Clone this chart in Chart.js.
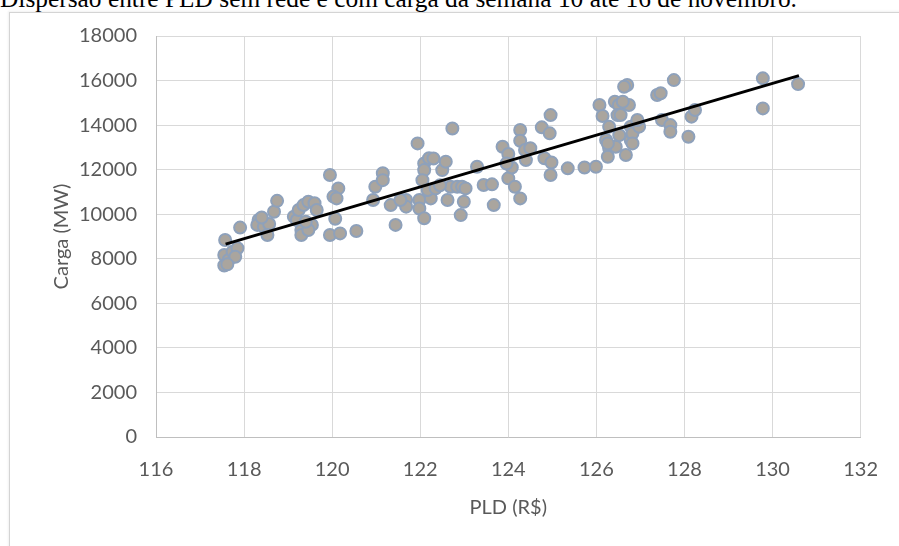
<!DOCTYPE html>
<html>
<head>
<meta charset="utf-8">
<script src="https://cdn.jsdelivr.net/npm/chart.js@4.4.1/dist/chart.umd.min.js"></script>
<style>
  html, body { margin: 0; padding: 0; background: #fff; overflow: hidden; }
  #wrap { position: relative; width: 899px; height: 546px; }
  #frame {
    position: absolute; left: 9px; top: 12px; width: 900px; height: 540px;
    border-left: 1px solid #d4d4d4; border-top: 1px solid #d4d4d4;
    box-shadow: -1px -1px 2px rgba(0,0,0,0.06);
  }
  #caption {
    position: absolute; left: 0; top: -16px; white-space: nowrap;
    font-family: "Liberation Serif", "Times New Roman", serif; font-size: 25.4px; color: #000;
  }
  canvas { position: absolute; left: 0; top: 0; }
</style>
</head>
<body>
<div id="wrap">
  <div id="frame"></div>
  <div id="caption">Dispersão entre PLD sem rede e com carga da semana 10 até 16 de novembro.</div>
  <canvas id="chart" width="899" height="546"></canvas>
</div>
<script>
// PLD (R$) vs Carga (MW)
const pld = [
  117.57, 117.55, 117.55, 117.65, 117.74, 117.85, 117.80, 117.91, 118.33, 118.30,
  118.45, 118.57, 118.53, 118.68, 118.75, 118.40, 117.62,
  119.13, 119.20, 119.24, 119.35, 119.46, 119.60, 119.65, 119.30, 119.30, 119.54,
  119.46, 119.40, 119.95, 120.14, 120.03, 120.10, 120.07, 119.95, 120.18, 120.55,
  120.93, 120.98, 121.15, 121.15, 121.33, 121.44, 121.68, 121.68, 121.55,
  121.94, 121.98, 121.98, 122.09, 122.09, 122.09, 122.05, 122.20, 122.24, 122.17,
  122.35, 122.50, 122.58, 122.62, 122.69, 122.73, 122.84, 122.95, 122.99, 122.92,
  123.03, 123.29, 123.44, 123.63, 123.67, 122.30, 122.45,
  123.87, 124.00, 124.00, 124.08, 124.15, 124.27, 124.27, 124.27, 124.40, 124.38,
  124.50, 123.96, 124.76, 124.94, 124.96, 124.82, 124.98, 124.96, 125.35, 125.73, 125.99,
  126.07, 126.14, 126.42, 126.51, 126.74, 126.48, 126.22, 126.29, 126.26, 126.44,
  126.67, 126.52, 126.78, 126.78, 126.70, 126.63, 126.60, 126.55, 126.29, 126.82,
  126.97, 126.93, 126.26, 126.82,
  127.38, 127.46, 127.76, 127.49, 127.68, 127.68, 128.09, 128.16, 128.24, 129.78,
  129.78, 130.58
];
const carga = [
  8840, 8170, 7700, 7950, 8320, 8470, 8090, 9400, 9740, 9520,
  9440, 9560, 9070, 10110, 10600, 9850, 7750,
  9890, 9740, 10190, 10410, 10560, 10490, 10190, 9290, 9070, 9520,
  9290, 9660, 11760, 11160, 10790, 10710, 9800, 9070, 9140, 9250,
  10640, 11230, 11840, 11530, 10410, 9520, 10640, 10340, 10640,
  13180, 10640, 10260, 9820, 12280, 11980, 11530, 12510, 10710, 11090,
  11160, 11980, 12360, 10640, 11230, 13850, 11230, 11230, 10560, 9960,
  11160, 12130, 11310, 11340, 10410, 12500, 11300,
  13030, 12700, 11610, 12100, 11230, 10710, 13780, 13300, 12430, 12880,
  12960, 12280, 13900, 13630, 14450, 12510, 12320, 11760, 12060, 12100, 12130,
  14900, 14410, 15050, 14900, 14900, 14450, 13330, 12960, 12580, 13030,
  12660, 13550, 13930, 13330, 15800, 15720, 15050, 14450, 13930, 13630,
  13930, 14230, 13180, 13180,
  15350, 15430, 16020, 14230, 14000, 13700, 13480, 14380, 14680, 16100,
  14750, 15840
];

// linear trend line end points as drawn in the picture
const trendX = [117.58, 130.6];
const trendY = [8660, 16220];

const xTicks = [116, 118, 120, 122, 124, 126, 128, 130, 132];
const yTicks = [0, 2000, 4000, 6000, 8000, 10000, 12000, 14000, 16000, 18000];

const tickFont = { family: 'Lato', size: 20 };
const gridColor = '#d9d9d9';
const textColor = '#595959';

const points = pld.map((x, i) => ({ x: x, y: carga[i] }));
const trend = trendX.map((x, i) => ({ x: x, y: trendY[i] }));

new Chart(document.getElementById('chart').getContext('2d'), {
    type: 'scatter',
    data: {
        datasets: [
            {
                label: 'Tendência',
                data: trend,
                showLine: true,
                borderColor: '#000000',
                borderWidth: 3,
                pointRadius: 0,
                order: 0
            },
            {
                label: 'Carga',
                data: points,
                backgroundColor: '#aaa59e',
                borderColor: '#8ea1bb',
                borderWidth: 2,
                pointRadius: 6,
                order: 1
            }
        ]
    },
    options: {
        responsive: false,
        animation: false,
        layout: { padding: { left: 0, top: 36, right: 33, bottom: 0 } },
        plugins: {
            legend: { display: false },
            tooltip: { enabled: false }
        },
        scales: {
            x: {
                type: 'linear',
                min: 116,
                max: 132,
                afterBuildTicks: s => { s.ticks = xTicks.map(v => ({ value: v })); },
                afterFit: s => { s.height = 109; },
                grid: { color: gridColor, drawTicks: false },
                border: { color: '#bfbfbf' },
                ticks: { color: textColor, font: tickFont, padding: 21 },
                title: {
                    display: true,
                    text: 'PLD (R$)',
                    color: textColor,
                    font: tickFont,
                    padding: { top: 0, bottom: 26 }
                }
            },
            y: {
                min: 0,
                max: 18000,
                afterBuildTicks: s => { s.ticks = yTicks.map(v => ({ value: v })); },
                afterFit: s => { s.width = 156; },
                grid: { color: gridColor, drawTicks: false },
                border: { color: '#bfbfbf' },
                ticks: { color: textColor, font: tickFont, padding: 19, callback: v => String(v) },
                title: {
                    display: true,
                    text: 'Carga (MW)',
                    color: textColor,
                    font: tickFont,
                    padding: { top: 50, bottom: 0 }
                }
            }
        }
    }
});
</script>
</body>
</html>
